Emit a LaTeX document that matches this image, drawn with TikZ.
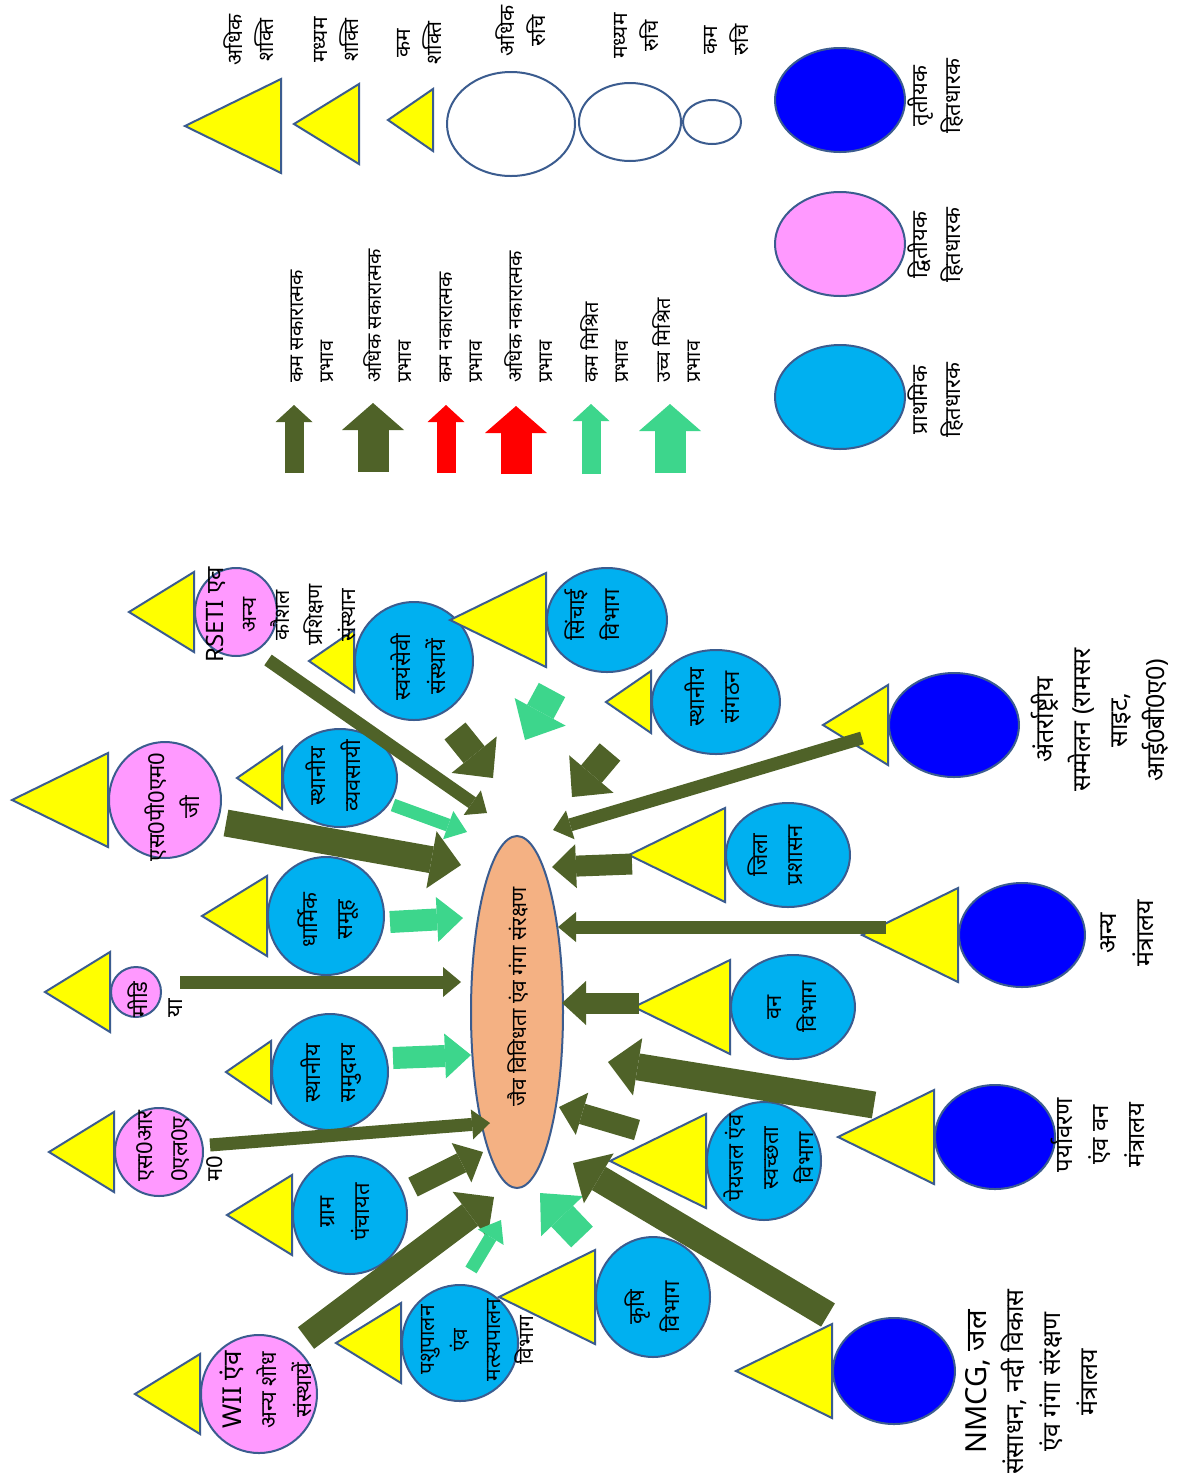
\documentclass[tikz,border=0pt]{standalone}
\usepackage{fontspec}
\setmainfont{Noto Sans}[Script=Devanagari]
\usetikzlibrary{shapes.geometric, arrows.meta, positioning}

\definecolor{edgeblue}{HTML}{3B5C8F}
\definecolor{primblue}{HTML}{00B0F0}
\definecolor{secpink}{HTML}{FF99FF}
\definecolor{tertblue}{HTML}{0000FF}
\definecolor{powyellow}{HTML}{FFFF00}
\definecolor{posolive}{HTML}{4F6228}
\definecolor{mixgreen}{HTML}{3DD68C}
\definecolor{negred}{HTML}{FF0000}
\definecolor{corepeach}{HTML}{F4B183}

\tikzset{
  holder/.style={ellipse, draw=edgeblue, line width=1pt, inner sep=0pt},
  prim/.style={holder, fill=primblue},
  sec/.style={holder, fill=secpink},
  tert/.style={holder, fill=tertblue},
  interest/.style={holder, fill=white},
  core/.style={holder, fill=corepeach},
  txt/.style={rotate=90, align=center, inner sep=0pt, font=\fontsize{11}{17.5}\selectfont},
  outtxt/.style={txt, font=\fontsize{12.5}{18.5}\selectfont},
  legtxt/.style={txt, font=\fontsize{10.5}{15.5}\selectfont},
  imptxt/.style={txt, align=left, anchor=west, font=\fontsize{10}{15}\selectfont},
  power/.style={draw=edgeblue, fill=powyellow, line width=1pt},
  pics/tribig/.style={code={\draw[power] (0,-47) -- (-96,0) -- (0,47) -- cycle;}},
  pics/trimid/.style={code={\draw[power] (0,-40) -- (-65,0) -- (0,40) -- cycle;}},
  pics/trismall/.style={code={\draw[power] (0,-31) -- (-45,0) -- (0,31) -- cycle;}},
  impact/.style={line cap=butt},
  posthin/.style={impact, draw=posolive, line width=6.5pt, -{Triangle[length=9pt,width=15pt,line width=0pt]}},
  posmid/.style={impact, draw=posolive, line width=10.5pt, -{Triangle[length=12pt,width=22pt,line width=0pt]}},
  posbig/.style={impact, draw=posolive, line width=13.5pt, -{Triangle[length=15pt,width=29pt,line width=0pt]}},
  mixsmall/.style={impact, draw=mixgreen, line width=6.5pt, -{Triangle[length=10pt,width=15pt,line width=0pt]}},
  mixmid/.style={impact, draw=mixgreen, line width=11pt, -{Triangle[length=13pt,width=22.5pt,line width=0pt]}},
  mixbig/.style={impact, draw=mixgreen, line width=15pt, -{Triangle[length=16pt,width=29pt,line width=0pt]}},
  keysmall/.style={impact, line width=9.5pt, -{Triangle[length=8.5pt,width=18.5pt,line width=0pt]}},
  keybig/.style={impact, line width=15.5pt, -{Triangle[length=13.5pt,width=31pt,line width=0pt]}},
}

\begin{document}
\begin{tikzpicture}[x=0.5pt,y=-0.5pt]
\fill[white] (0,0) rectangle (1189,1473);
\useasboundingbox (0,0) rectangle (1189,1473);

% ---- legend: power and interest
\node[interest, minimum width=64pt, minimum height=52pt] (hiInt) at (511,124) {};
\node[interest, minimum width=51pt, minimum height=39pt] (midInt) at (630,122) {};
\node[interest, minimum width=29pt, minimum height=22pt] (loInt) at (712,122) {};
\pic at (281,126) {tribig};
\pic at (359,124) {trimid};
\pic at (433,120) {trismall};
\node[legtxt] (hiPowL) at (249,40) {अधिक\\शक्ति};
\node[legtxt] (midPowL) at (337,40) {मध्यम\\शक्ति};
\node[legtxt] (loPowL) at (420,43) {कम\\शक्ति};
\node[legtxt] (hiIntL) at (521,31) {अधिक\\रुचि};
\node[legtxt] (midIntL) at (636,36) {मध्यम\\रुचि};
\node[legtxt] (loIntL) at (727,40) {कम\\रुचि};

% ---- legend: stakeholder types
\node[tert, minimum width=65pt, minimum height=52pt] (tertKey) at (840,100) {};
\node[sec, minimum width=65pt, minimum height=52pt] (secKey) at (840,244) {};
\node[prim, minimum width=65pt, minimum height=52pt] (primKey) at (840,397) {};
\node[outtxt, font=\fontsize{11}{16.5}\selectfont] (tertKeyL) at (936,96) {तृतीयक\\हितधारक};
\node[outtxt, font=\fontsize{11}{16.5}\selectfont] (secKeyL) at (936,245) {द्वितीयक\\हितधारक};
\node[outtxt, font=\fontsize{11}{16.5}\selectfont] (primKeyL) at (936,400) {प्राथमिक\\हितधारक};

% ---- legend: impact arrows
\coordinate (kPosLoA) at (294,473); \coordinate (kPosLoB) at (294,405);
\coordinate (kPosHiA) at (373,472); \coordinate (kPosHiB) at (373,403);
\coordinate (kNegLoA) at (446,473); \coordinate (kNegLoB) at (446,405);
\coordinate (kNegHiA) at (516,474); \coordinate (kNegHiB) at (516,406);
\coordinate (kMixLoA) at (591,474); \coordinate (kMixLoB) at (591,404);
\coordinate (kMixHiA) at (670,473); \coordinate (kMixHiB) at (670,404);
\draw[keysmall, draw=posolive] (kPosLoA) -- (kPosLoB);
\draw[keybig, draw=posolive] (kPosHiA) -- (kPosHiB);
\draw[keysmall, draw=negred] (kNegLoA) -- (kNegLoB);
\draw[keybig, draw=negred] (kNegHiA) -- (kNegHiB);
\draw[keysmall, draw=mixgreen] (kMixLoA) -- (kMixLoB);
\draw[keybig, draw=mixgreen] (kMixHiA) -- (kMixHiB);
\node[imptxt] (kPosLoL) at (312,383) {कम सकारात्मक\\प्रभाव};
\node[imptxt] (kPosHiL) at (388,383) {अधिक सकारात्मक\\प्रभाव};
\node[imptxt] (kNegLoL) at (461,383) {कम नकारात्मक\\प्रभाव};
\node[imptxt] (kNegHiL) at (529,383) {अधिक नकारात्मक\\प्रभाव};
\node[imptxt] (kMixLoL) at (605,383) {कम मिश्रित\\प्रभाव};
\node[imptxt] (kMixHiL) at (677,383) {उच्च मिश्रित\\प्रभाव};

% ---- stakeholders
\node[core, minimum width=46pt, minimum height=176pt] (bio) at (517,1012) {};
\node[sec, minimum width=58pt, minimum height=59pt] (wii) at (259,1394) {};
\node[sec, minimum width=44pt, minimum height=44pt] (srlm) at (159,1152) {};
\node[sec, minimum width=25pt, minimum height=25pt] (media) at (136,992) {};
\node[sec, minimum width=56pt, minimum height=58pt] (spmg) at (165,800) {};
\node[sec, minimum width=41pt, minimum height=44pt] (rseti) at (236,612) {};
\node[prim, minimum width=57pt, minimum height=49pt] (vyav) at (340,778) {};
\node[prim, minimum width=58pt, minimum height=59pt] (dharm) at (326,916) {};
\node[prim, minimum width=58pt, minimum height=58pt] (samu) at (330,1072) {};
\node[prim, minimum width=57pt, minimum height=59pt] (gram) at (350,1215) {};
\node[prim, minimum width=58pt, minimum height=58pt] (pashu) at (460,1343) {};
\node[prim, minimum width=57pt, minimum height=60pt] (krishi) at (653,1297) {};
\node[prim, minimum width=57pt, minimum height=59pt] (peyjal) at (764,1161) {};
\node[tert, minimum width=61pt, minimum height=53pt] (nmcg) at (894,1371) {};
\node[tert, minimum width=60pt, minimum height=52pt] (parya) at (995,1137) {};
\node[prim, minimum width=62pt, minimum height=52pt] (van) at (793,1007) {};
\node[tert, minimum width=63pt, minimum height=52pt] (anya) at (1022,935) {};
\node[prim, minimum width=62pt, minimum height=52pt] (jila) at (788,855) {};
\node[tert, minimum width=65pt, minimum height=52pt] (antar) at (954,725) {};
\node[prim, minimum width=64pt, minimum height=52pt] (sangathan) at (716,702) {};
\node[prim, minimum width=60pt, minimum height=52pt] (sinchai) at (607,620) {};
\node[prim, minimum width=59pt, minimum height=59pt] (swayam) at (414,661) {};

% ---- power triangles
\pic at (wii.west) {trimid};
\pic at (srlm.west) {trimid};
\pic at (media.west) {trimid};
\pic at (spmg.west) {tribig};
\pic at (rseti.west) {trimid};
\pic at (vyav.west) {trismall};
\pic at (dharm.west) {trimid};
\pic at (samu.west) {trismall};
\pic at (gram.west) {trimid};
\pic at (pashu.west) {trimid};
\pic at (krishi.west) {tribig};
\pic at (peyjal.west) {tribig};
\pic at (nmcg.west) {tribig};
\pic at (parya.west) {tribig};
\pic at (van.west) {tribig};
\pic at (anya.west) {tribig};
\pic at (jila.west) {tribig};
\pic at (antar.west) {trimid};
\pic at (sangathan.west) {trismall};
\pic at (sinchai.west) {tribig};
\pic at (swayam.west) {trismall};

% ---- impact arrows
\coordinate (wiiA) at (306,1338);       \coordinate (wiiB) at (494,1197);
\coordinate (srlmA) at (210,1145);      \coordinate (srlmB) at (490,1123);
\coordinate (mediaA) at (180,982);      \coordinate (mediaB) at (461,982);
\coordinate (spmgA) at (226,823);       \coordinate (spmgB) at (461,865);
\coordinate (rsetiA) at (268,660);      \coordinate (rsetiB) at (487,813);
\coordinate (vyavA) at (393,805);       \coordinate (vyavB) at (467,832);
\coordinate (dharmA) at (390,922);      \coordinate (dharmB) at (463,918);
\coordinate (samuA) at (393,1058);      \coordinate (samuB) at (471,1055);
\coordinate (gramA) at (413,1187);      \coordinate (gramB) at (483,1152);
\coordinate (pashuA) at (471,1270);     \coordinate (pashuB) at (501,1220);
\coordinate (krishiA) at (582,1237);    \coordinate (krishiB) at (540,1193);
\coordinate (peyjalA) at (637,1130);    \coordinate (peyjalB) at (559,1107);
\coordinate (nmcgA) at (828,1315);      \coordinate (nmcgB) at (573,1163);
\coordinate (paryaA) at (874,1105);     \coordinate (paryaB) at (608,1062);
\coordinate (vanA) at (639,1003);       \coordinate (vanB) at (562,1003);
\coordinate (anyaA) at (886,927);       \coordinate (anyaB) at (558,927);
\coordinate (jilaA) at (632,864);       \coordinate (jilaB) at (552,867);
\coordinate (antarA) at (862,738);      \coordinate (antarB) at (553,830);
\coordinate (sangathanA) at (610,752);  \coordinate (sangathanB) at (572,797);
\coordinate (sinchaiA) at (552,690);    \coordinate (sinchaiB) at (525,740);
\coordinate (swayamA) at (455,731);     \coordinate (swayamB) at (493,778);

\draw[posbig] (wiiA) -- (wiiB);
\draw[posthin] (srlmA) -- (srlmB);
\draw[posthin] (mediaA) -- (mediaB);
\draw[posbig] (spmgA) -- (spmgB);
\draw[posthin] (rsetiA) -- (rsetiB);
\draw[mixsmall] (vyavA) -- (vyavB);
\draw[mixmid] (dharmA) -- (dharmB);
\draw[mixmid] (samuA) -- (samuB);
\draw[posmid] (gramA) -- (gramB);
\draw[mixsmall] (pashuA) -- (pashuB);
\draw[mixbig] (krishiA) -- (krishiB);
\draw[posmid] (peyjalA) -- (peyjalB);
\draw[posbig] (nmcgA) -- (nmcgB);
\draw[posbig] (paryaA) -- (paryaB);
\draw[posmid] (vanA) -- (vanB);
\draw[posthin] (anyaA) -- (anyaB);
\draw[posmid] (jilaA) -- (jilaB);
\draw[posthin] (antarA) -- (antarB);
\draw[posbig] (sangathanA) -- (sangathanB);
\draw[mixbig] (sinchaiA) -- (sinchaiB);
\draw[posbig] (swayamA) -- (swayamB);

% ---- texts
\node[txt, font=\fontsize{10.5}{17}\selectfont] (bioL) at (518,997) {जैव विविधता एंव गंगा संरक्षण};
\node[txt] (wiiL) at (266,1390) {{\fontsize{13}{17}\selectfont WII एंव}\\अन्य शोध\\संस्थायें};
\node[txt, align=left, anchor=west] (srlmL) at (180,1182) {एस0आर\\0एल0ए\\म0};
\node[txt, align=left, anchor=west] (mediaL) at (155,1018) {मीडि\\या};
\node[txt] (spmgL) at (172,807) {एस0पी0एम0\\जी};
\node[txt, font=\fontsize{10.5}{16.5}\selectfont] (rsetiL) at (281,615) {{\fontsize{12}{16.5}\selectfont RSETI एव}\\अन्य\\कौशल\\प्रशिक्षण\\संस्थान};
\node[txt] (vyavL) at (333,776) {स्थानीय\\व्यवसायी};
\node[txt] (dharmL) at (328,920) {धार्मिक\\समूह};
\node[txt] (samuL) at (331,1073) {स्थानीय\\समुदाय};
\node[txt] (gramL) at (345,1212) {ग्राम\\पंचायत};
\node[txt, font=\fontsize{10.5}{16.5}\selectfont] (pashuL) at (477,1340) {पशुपालन\\एंव\\मत्स्यपालन\\विभाग};
\node[txt] (krishiL) at (652,1307) {कृषि\\विभाग};
\node[txt] (peyjalL) at (769,1158) {पेयजल एंव\\स्वच्छता\\विभाग};
\node[outtxt] (nmcgL) at (1032,1382) {{\fontsize{14.5}{18.5}\selectfont NMCG, जल}\\संसाधन, नदी विकास\\एंव गंगा संरक्षण\\मंत्रालय};
\node[outtxt, font=\fontsize{12}{18}\selectfont] (paryaL) at (1098,1135) {पर्यावरण\\एंव वन\\मंत्रालय};
\node[txt] (vanL) at (792,1007) {वन\\विभाग};
\node[outtxt] (anyaL) at (1127,933) {अन्य\\मंत्रालय};
\node[txt] (jilaL) at (775,855) {जिला\\प्रशासन};
\node[outtxt] (antarL) at (1100,720) {अंतर्राष्ट्रीय\\सम्मेलन (रामसर\\साइट,\\आई0बी0ए0)};
\node[txt] (sangathanL) at (712,697) {स्थानीय\\संगठन};
\node[txt] (sinchaiL) at (592,615) {सिंचाई\\विभाग};
\node[txt] (swayamL) at (418,667) {स्वयंसेवी\\संस्थायें};
\end{tikzpicture}
\end{document}
